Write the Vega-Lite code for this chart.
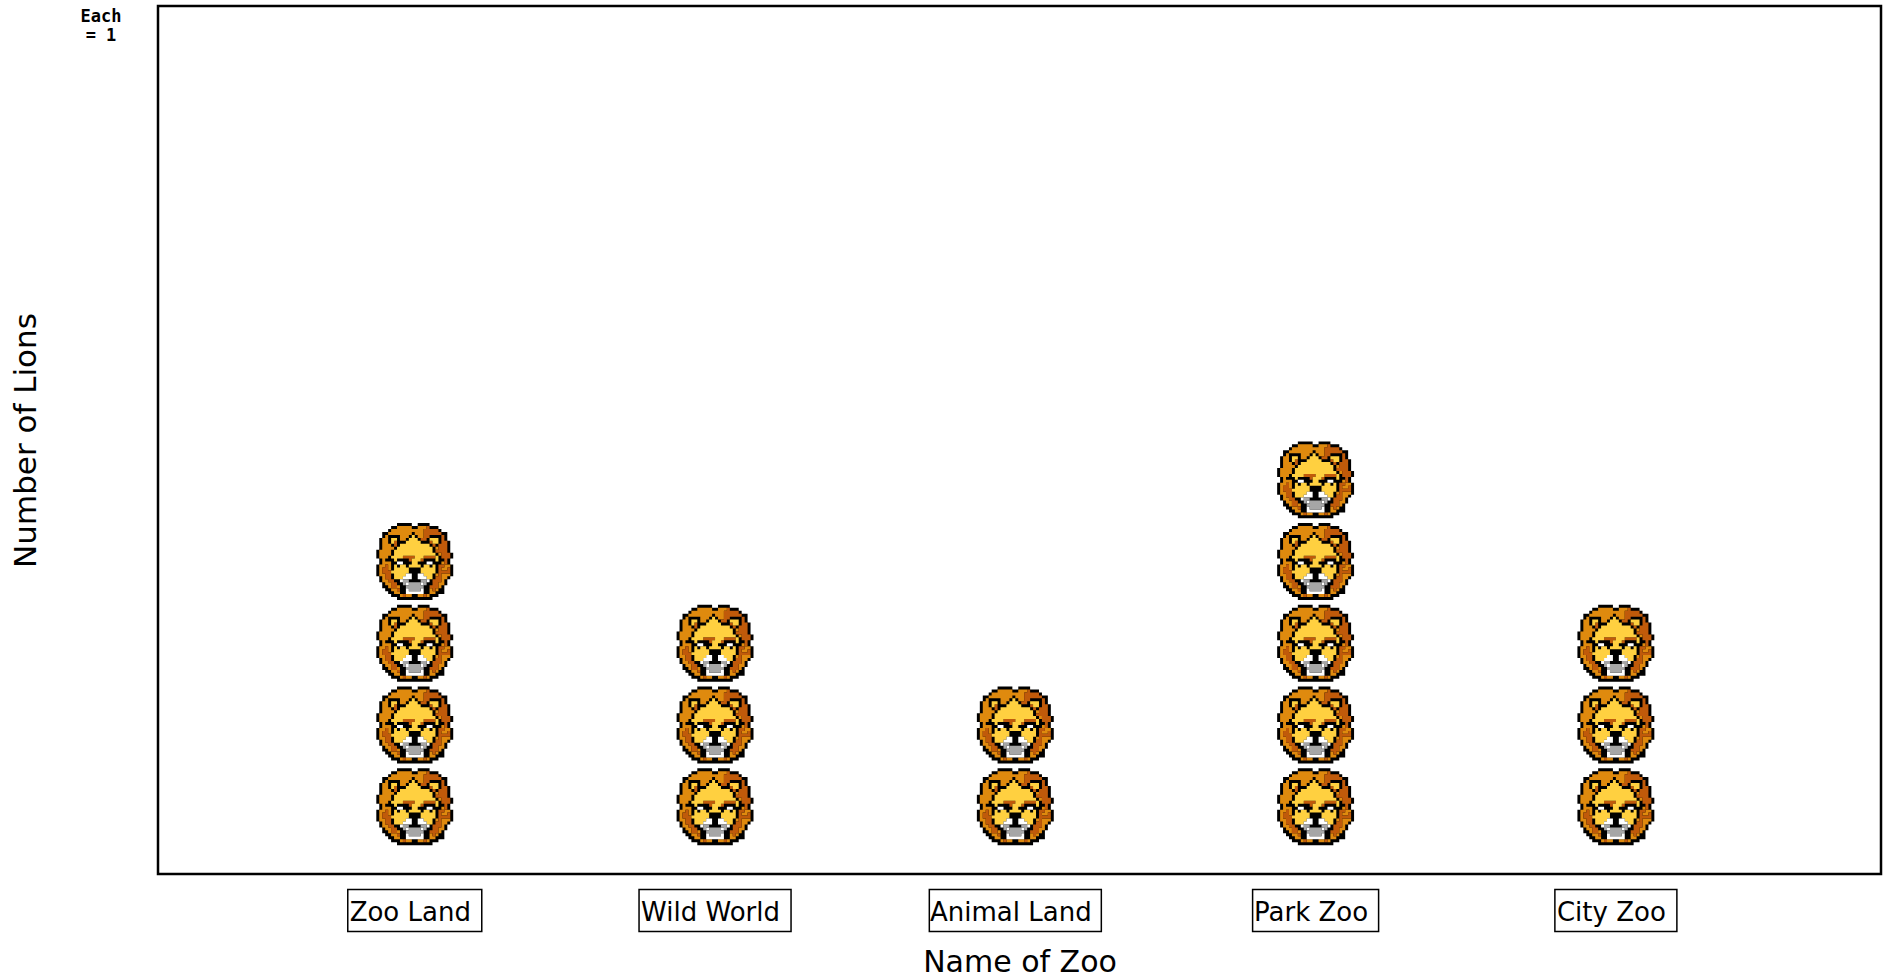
{
"$schema":"https://vega.github.io/schema/vega-lite/v6.json",
"autosize":{"type":"none"},
"padding":{"left":158,"top":6,"right":4,"bottom":103},
"width":1723,"height":868,
"background":"white",
"config":{"view":{"stroke":"black","strokeWidth":2.5}},
"title":{"text":["Each","= 1"],"frame":"group","anchor":"start","align":"center","dx":-57,"dy":39,"font":"DejaVu Sans Mono","fontWeight":"bold","fontSize":17,"lineHeight":19,"color":"black","baseline":"top","offset":0},
"data":{"values":[
{"zoo":"Zoo Land","lion":1},{"zoo":"Zoo Land","lion":2},{"zoo":"Zoo Land","lion":3},{"zoo":"Zoo Land","lion":4},
{"zoo":"Wild World","lion":1},{"zoo":"Wild World","lion":2},{"zoo":"Wild World","lion":3},
{"zoo":"Animal Land","lion":1},{"zoo":"Animal Land","lion":2},
{"zoo":"Park Zoo","lion":1},{"zoo":"Park Zoo","lion":2},{"zoo":"Park Zoo","lion":3},{"zoo":"Park Zoo","lion":4},{"zoo":"Park Zoo","lion":5},
{"zoo":"City Zoo","lion":1},{"zoo":"City Zoo","lion":2},{"zoo":"City Zoo","lion":3}
]},
"encoding":{
"x":{"field":"zoo","type":"nominal","sort":null,"scale":{"type":"point","domain":["Zoo Land","Wild World","Animal Land","Park Zoo","City Zoo"],"padding":0.869,"align":0.492},"axis":{"title":"Name of Zoo","titleFontSize":30,"titleFont":"DejaVu Sans","titleFontWeight":"normal","titleColor":"black","titlePadding":22,"labelFont":"DejaVu Sans","labelFontSize":26,"labelColor":"black","labelAngle":0,"labelPadding":25,"labelOffset":-5,"ticks":false,"domain":false,"grid":false}},
"y":{"field":"lion","type":"quantitative","scale":{"domain":[0.176,10.8],"nice":false,"zero":false},"axis":{"title":"Number of Lions","titleFontSize":31,"titleFont":"DejaVu Sans","titleFontWeight":"normal","titleColor":"black","titlePadding":116,"labels":false,"ticks":false,"domain":false,"grid":false}}
},
"layer":[
{"mark":{"type":"point","filled":true,"size":35,"opacity":1,"color":"black","strokeWidth":0,"shape":"M-6 -13h5v1h-5zM1 -13h4v1h-4zM-8 -12h16v1h-16zM-9 -11h18v1h-18zM-11 -10h22v2h-22zM-12 -8h23v1h-23zM-12 -7h24v3h-24zM-13 -4h25v1h-25zM-13 -3h26v2h-26zM-12 -1h24v2h-24zM-13 1h26v4h-26zM-12 5h24v1h-24zM-12 6h23v1h-23zM-11 7h22v1h-22zM-11 8h21v1h-21zM-10 9h20v1h-20zM-9 10h19v1h-19zM-8 11h16v1h-16zM-6 12h12v1h-12z"}},
{"mark":{"type":"point","filled":true,"size":35,"opacity":1,"color":"#DF8A0E","strokeWidth":0,"shape":"M-6 -12h5v1h-5zM1 -12h3v1h-3zM-8 -11h11v1h-11zM-9 -10h8v1h-8zM0 -10h3v1h-3zM-10 -9h1v1h-1zM-5 -9h3v1h-3zM1 -9h2v1h-2zM-11 -8h2v1h-2zM-5 -8h2v1h-2zM-11 -7h2v1h-2zM-11 -6h3v1h-3zM-11 -5h4v1h-4zM7 -5h1v1h-1zM-12 -4h4v1h-4zM-12 -3h4v1h-4zM8 -3h1v1h-1zM-12 -2h3v1h-3zM-11 -1h1v1h-1zM-11 0h3v1h-3zM9 0h1v1h-1zM-12 1h2v1h-2zM-9 1h1v1h-1zM10 1h2v1h-2zM-12 2h1v1h-1zM-9 2h1v1h-1zM9 2h2v1h-2zM-12 3h1v1h-1zM-12 4h2v1h-2zM7 4h1v1h-1zM9 4h3v1h-3zM-11 5h1v1h-1zM9 5h2v1h-2zM-11 6h2v1h-2zM9 6h1v1h-1zM-10 7h2v1h-2zM8 7h2v1h-2zM-9 8h1v1h-1zM-6 8h1v1h-1zM8 8h1v1h-1zM-8 9h2v1h-2zM5 9h1v1h-1zM7 9h1v1h-1zM-7 10h2v1h-2zM5 10h2v1h-2zM-5 11h1v1h-1zM-3 11h2v1h-2zM1 11h2v1h-2zM4 11h1v1h-1z"}},
{"mark":{"type":"point","filled":true,"size":35,"opacity":1,"color":"#C05A0A","strokeWidth":0,"shape":"M4 -12h1v1h-1zM3 -11h5v1h-5zM3 -10h6v1h-6zM3 -9h2v1h-2zM9 -9h1v1h-1zM2 -8h2v1h-2zM9 -8h1v1h-1zM-7 -7h1v1h-1zM5 -7h1v1h-1zM9 -7h2v1h-2zM-7 -6h1v1h-1zM6 -6h1v1h-1zM8 -6h3v1h-3zM8 -5h3v1h-3zM7 -4h4v1h-4zM9 -3h3v1h-3zM-4 -2h4v1h-4zM3 -2h4v1h-4zM9 -2h3v1h-3zM-2 -1h1v1h-1zM2 -1h1v1h-1zM10 -1h1v1h-1zM10 0h1v1h-1zM-10 1h1v1h-1zM8 1h2v1h-2zM-11 2h2v1h-2zM8 2h1v1h-1zM11 2h1v1h-1zM-11 3h3v1h-3zM8 3h4v1h-4zM-10 4h2v1h-2zM8 4h1v1h-1zM-10 5h2v1h-2zM7 5h2v1h-2zM-9 6h2v1h-2zM6 6h3v1h-3zM-8 7h2v1h-2zM6 7h2v1h-2zM-8 8h2v1h-2zM5 8h3v1h-3zM-6 9h1v1h-1zM6 9h1v1h-1zM-4 11h1v1h-1zM3 11h1v1h-1z"}},
{"mark":{"type":"point","filled":true,"size":35,"opacity":1,"color":"#FFD040","strokeWidth":0,"shape":"M-1 -9h1v1h-1zM-8 -8h2v1h-2zM-2 -8h3v1h-3zM5 -8h3v1h-3zM-8 -7h1v1h-1zM-3 -7h5v1h-5zM6 -7h2v1h-2zM-5 -6h10v1h-10zM-6 -5h12v1h-12zM-7 -4h13v1h-13zM-7 -3h14v1h-14zM-8 -2h4v1h-4zM0 -2h3v1h-3zM7 -2h1v1h-1zM-7 -1h1v1h-1zM-1 -1h3v1h-3zM7 -1h1v1h-1zM-1 0h2v1h-2zM-7 1h1v1h-1zM-5 1h2v1h-2zM-2 1h4v1h-4zM3 1h2v1h-2zM6 1h1v1h-1zM-7 2h5v1h-5zM2 2h5v1h-5zM-8 3h6v1h-6zM2 3h5v1h-5zM-7 4h4v1h-4zM3 4h3v1h-3zM-7 5h3v1h-3zM4 5h2v1h-2z"}},
{"mark":{"type":"point","filled":true,"size":35,"opacity":1,"color":"white","strokeWidth":0,"shape":"M-6 0h2v1h-2zM4 0h2v1h-2zM-3 4h2v1h-2zM1 4h2v1h-2zM-4 5h3v1h-3zM1 5h3v1h-3zM-5 6h1v1h-1zM4 6h1v1h-1zM-3 7h1v1h-1zM2 7h1v1h-1zM-3 9h1v1h-1zM2 9h1v1h-1zM-3 10h6v1h-6z"}},
{"mark":{"type":"point","filled":true,"size":35,"opacity":1,"color":"#A6A6A6","strokeWidth":0,"shape":"M-4 6h2v1h-2zM2 6h2v1h-2zM-4 7h1v1h-1zM-2 7h4v1h-4zM3 7h1v1h-1zM-3 8h6v1h-6zM-2 9h4v1h-4z"}},
{"transform":[{"filter":"datum.lion == 1"}],
 "mark":{"type":"point","filled":false,"size":4,"opacity":1,"stroke":"black","strokeWidth":1.5,"clip":false},
 "encoding":{
  "y":{"datum":-0.272},
  "shape":{"field":"zoo","type":"nominal","legend":null,"scale":{"domain":["Zoo Land","Wild World","Animal Land","Park Zoo","City Zoo"],"range":["M-67 -21h134v42h-134z","M-76 -21h152v42h-152z","M-86 -21h172v42h-172z","M-63 -21h126v42h-126z","M-61 -21h122v42h-122z"]}}
 }}
]
}
